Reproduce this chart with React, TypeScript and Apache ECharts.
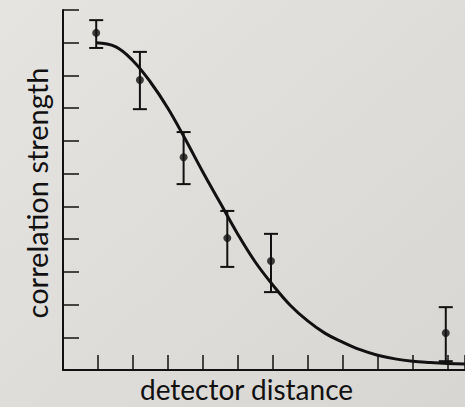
import React, { useEffect, useRef } from "react";
import * as echarts from "echarts";

const pointX = [0.95, 2.2, 3.45, 4.7, 5.95, 10.95];
const pointY = [10.3, 8.86, 6.5, 4.03, 3.33, 1.13];
const errHigh = [10.69, 9.72, 7.27, 4.86, 4.16, 1.92];
const errLow = [9.84, 7.97, 5.68, 3.15, 2.38, 0.27];

const curveX = [0.95, 1.5, 2.0, 2.5, 3.0, 3.5, 4.0, 4.5, 5.0, 5.5, 6.0, 6.5, 7.0, 7.5, 8.0, 8.5, 9.0, 9.5, 10.0, 10.5, 11.0, 11.5];
const curveY = [10.0, 9.88, 9.45, 8.8, 8.0, 7.05, 6.05, 5.1, 4.15, 3.3, 2.6, 1.98, 1.5, 1.12, 0.85, 0.62, 0.45, 0.34, 0.27, 0.23, 0.2, 0.18];

const xLabel = "detector distance";
const yLabel = "correlation strength";

export default function App() {
  const ref = useRef<HTMLDivElement>(null);
  useEffect(() => {
    if (!ref.current) return;
    const chart = echarts.init(ref.current, null, { renderer: "svg" });
    const ink = "#111111";
    const font = "Lato";
    chart.setOption({
      animation: false,
      backgroundColor: {
        type: "linear", x: 0, y: 0, x2: 1, y2: 1,
        colorStops: [
          { offset: 0, color: "#e6e4e1" },
          { offset: 1, color: "#d8d6d2" },
        ],
      },
      grid: { left: 63, top: 10, right: 0, bottom: 37 },
      xAxis: {
        type: "value", min: 0, max: 11.5, interval: 1,
        axisLine: { show: true, lineStyle: { color: ink, width: 2 } },
        axisTick: { show: true, inside: true, length: 15, lineStyle: { color: ink, width: 1.5 } },
        axisLabel: { show: false },
        splitLine: { show: false },
      },
      yAxis: {
        type: "value", min: 0, max: 11, interval: 1,
        axisLine: { show: true, lineStyle: { color: ink, width: 2 } },
        axisTick: { show: true, inside: true, length: 16, lineStyle: { color: ink, width: 1.5 } },
        axisLabel: { show: false },
        splitLine: { show: false },
      },
      graphic: [
        {
          type: "text", x: 246.5, y: 389,
          style: { text: xLabel, fontFamily: font, fontSize: 28, fill: ink, align: "center", verticalAlign: "middle" },
        },
        {
          type: "text", x: 22, y: 193, rotation: Math.PI / 2,
          style: { text: yLabel, fontFamily: font, fontSize: 29, fill: ink, align: "center", verticalAlign: "top" },
        },
      ],
      series: [
        {
          type: "line",
          data: curveX.map((x, i) => [x, curveY[i]]),
          smooth: 0.4,
          showSymbol: false,
          lineStyle: { color: ink, width: 3 },
          z: 2,
        },
        {
          type: "custom",
          data: pointX.map((x, i) => [x, errLow[i], errHigh[i]]),
          renderItem: (params: any, api: any) => {
            const x = api.value(0);
            const lo = api.coord([x, api.value(1)]);
            const hi = api.coord([x, api.value(2)]);
            const hw = 7;
            const st = { stroke: ink, lineWidth: 2 };
            return {
              type: "group",
              children: [
                { type: "line", shape: { x1: lo[0], y1: lo[1], x2: hi[0], y2: hi[1] }, style: st },
                { type: "line", shape: { x1: lo[0] - hw, y1: lo[1], x2: lo[0] + hw, y2: lo[1] }, style: st },
                { type: "line", shape: { x1: hi[0] - hw, y1: hi[1], x2: hi[0] + hw, y2: hi[1] }, style: st },
              ],
            };
          },
          z: 3,
        },
        {
          type: "scatter",
          data: pointX.map((x, i) => [x, pointY[i]]),
          symbol: "circle",
          symbolSize: 8,
          itemStyle: { color: ink },
          z: 4,
        },
      ],
    });
    return () => chart.dispose();
  }, []);
  return <div ref={ref} style={{ position: "fixed", left: 0, top: 0, width: 465, height: 407 }} />;
}
